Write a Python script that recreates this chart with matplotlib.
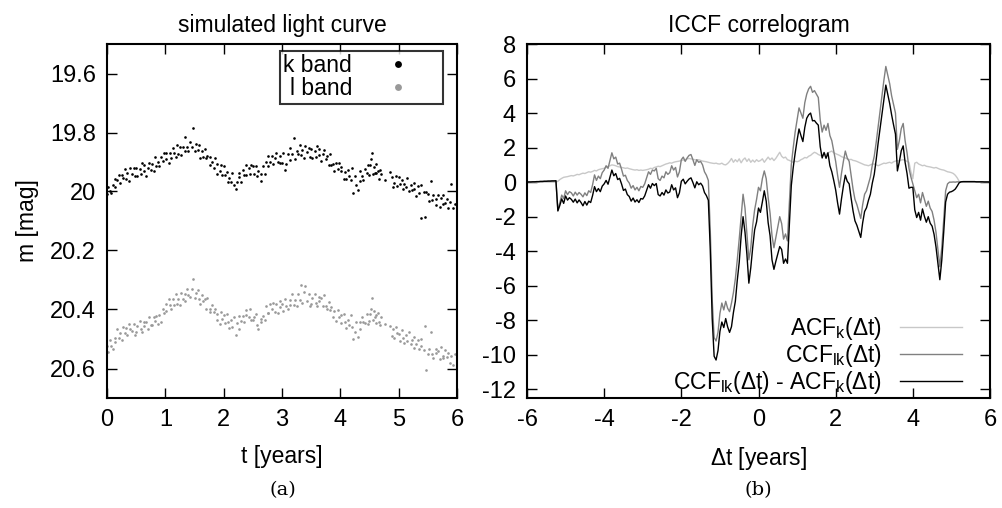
import numpy as np
import matplotlib
matplotlib.use("Agg")
import matplotlib.pyplot as plt

plt.rcParams['font.family'] = ['Liberation Sans', 'DejaVu Sans']
plt.rcParams['mathtext.default'] = 'regular'
plt.rcParams['axes.unicode_minus'] = False

# ---- panel (a): simulated light curve (epochs in years, magnitudes) ----
t_years = [
    0.004, 0.019, 0.058, 0.075, 0.097, 0.132, 0.142, 0.177, 0.205, 0.221, 0.259, 0.268, 0.301, 0.331, 0.345, 0.378, 0.391, 0.429, 0.458, 0.473,
    0.504, 0.519, 0.558, 0.575, 0.597, 0.632, 0.642, 0.677, 0.705, 0.721, 0.759, 0.768, 0.801, 0.831, 0.845, 0.878, 0.891, 0.929, 0.958, 0.973,
    1.004, 1.019, 1.058, 1.075, 1.097, 1.132, 1.142, 1.177, 1.205, 1.221, 1.259, 1.268, 1.301, 1.331, 1.345, 1.378, 1.391, 1.429, 1.458, 1.473,
    1.504, 1.519, 1.558, 1.575, 1.597, 1.632, 1.642, 1.677, 1.705, 1.721, 1.759, 1.768, 1.801, 1.831, 1.845, 1.878, 1.891, 1.929, 1.958, 1.973,
    2.004, 2.019, 2.058, 2.075, 2.097, 2.132, 2.142, 2.177, 2.205, 2.221, 2.259, 2.268, 2.301, 2.331, 2.345, 2.378, 2.391, 2.429, 2.458, 2.473,
    2.504, 2.519, 2.558, 2.575, 2.597, 2.632, 2.642, 2.677, 2.705, 2.721, 2.759, 2.768, 2.801, 2.831, 2.845, 2.878, 2.891, 2.929, 2.958, 2.973,
    3.004, 3.019, 3.058, 3.075, 3.097, 3.132, 3.142, 3.177, 3.205, 3.221, 3.259, 3.268, 3.301, 3.331, 3.345, 3.378, 3.391, 3.429, 3.458, 3.473,
    3.504, 3.519, 3.558, 3.575, 3.597, 3.632, 3.642, 3.677, 3.705, 3.721, 3.759, 3.768, 3.801, 3.831, 3.845, 3.878, 3.891, 3.929, 3.958, 3.973,
    4.004, 4.019, 4.058, 4.075, 4.097, 4.132, 4.142, 4.177, 4.205, 4.221, 4.259, 4.268, 4.301, 4.331, 4.345, 4.378, 4.391, 4.429, 4.458, 4.473,
    4.500, 4.515, 4.530, 4.545, 4.560, 4.575, 4.590, 4.605, 4.620, 4.640, 4.660, 4.680, 4.700, 4.760, 4.860, 4.880, 4.900, 4.925, 4.950, 4.975,
    5.004, 5.019, 5.058, 5.075, 5.097, 5.132, 5.142, 5.177, 5.205, 5.221, 5.259, 5.268, 5.301, 5.331, 5.345, 5.378, 5.391, 5.429, 5.458, 5.473,
    5.504, 5.519, 5.558, 5.575, 5.597, 5.632, 5.642, 5.677, 5.705, 5.721, 5.759, 5.768, 5.801, 5.831, 5.845, 5.878, 5.891, 5.929, 5.958, 5.993,
]

k_band = [
    20.008, 19.984, 19.997, 20.005, 19.979, 19.959, 19.985, 19.962, 19.943, 19.972, 19.945, 19.955, 19.925, 19.957, 19.938, 19.963, 19.920, 19.939, 19.922, 19.949,
    19.920, 19.949, 19.925, 19.942, 19.904, 19.932, 19.910, 19.946, 19.922, 19.902, 19.926, 19.906, 19.929, 19.883, 19.913, 19.899, 19.914, 19.882, 19.895, 19.868,
    19.890, 19.869, 19.903, 19.871, 19.888, 19.853, 19.871, 19.883, 19.842, 19.872, 19.849, 19.876, 19.848, 19.862, 19.815, 19.849, 19.864, 19.831, 19.849, 19.785,
    19.863, 19.838, 19.858, 19.841, 19.885, 19.863, 19.884, 19.855, 19.888, 19.880, 19.910, 19.883, 19.900, 19.920, 19.885, 19.907, 19.942, 19.930, 19.910, 19.944,
    19.915, 19.944, 19.933, 19.967, 19.954, 19.967, 19.936, 19.979, 19.990, 19.968, 19.937, 19.950, 19.968, 19.926, 19.943, 19.910, 19.943, 19.922, 19.942, 19.910,
    19.915, 19.942, 19.912, 19.949, 19.932, 19.964, 19.939, 19.914, 19.941, 19.900, 19.914, 19.879, 19.901, 19.881, 19.907, 19.886, 19.868, 19.899, 19.881, 19.905,
    19.902, 19.870, 19.928, 19.906, 19.873, 19.854, 19.892, 19.874, 19.818, 19.889, 19.862, 19.873, 19.843, 19.876, 19.859, 19.885, 19.845, 19.867, 19.852, 19.882,
    19.855, 19.886, 19.863, 19.882, 19.846, 19.876, 19.856, 19.895, 19.874, 19.859, 19.891, 19.880, 19.911, 19.873, 19.911, 19.906, 19.929, 19.905, 19.925, 19.905,
    19.930, 19.916, 19.958, 19.933, 19.958, 19.927, 19.946, 19.960, 19.922, 20.005, 19.946, 19.978, 19.995, 19.964, 19.931, 19.948, 19.960, 19.924, 19.938, 19.911,
    19.943, 19.910, 19.890, 19.870, 19.940, 19.916, 19.936, 19.906, 19.938, 19.929, 19.957, 19.927, 19.940, 19.960, 19.933, 19.952, 19.984, 19.970, 19.949, 19.980,
    19.950, 19.975, 19.960, 19.990, 19.974, 19.986, 19.955, 20.000, 19.977, 19.996, 19.971, 19.991, 20.015, 19.980, 20.004, 19.978, 20.090, 20.003, 20.088, 20.002,
    20.010, 20.031, 19.965, 20.029, 20.012, 20.045, 20.026, 20.012, 20.053, 20.021, 20.041, 20.012, 20.038, 20.024, 20.055, 20.037, 19.975, 20.057, 20.042, 20.070,
]

l_band = [
    20.523, 20.543, 20.502, 20.523, 20.534, 20.495, 20.509, 20.467, 20.498, 20.480, 20.502, 20.461, 20.481, 20.464, 20.488, 20.448, 20.466, 20.474, 20.448, 20.485,
    20.475, 20.455, 20.439, 20.467, 20.477, 20.442, 20.456, 20.443, 20.467, 20.425, 20.452, 20.454, 20.424, 20.440, 20.421, 20.448, 20.418, 20.443, 20.398, 20.413,
    20.383, 20.404, 20.364, 20.386, 20.399, 20.365, 20.384, 20.347, 20.383, 20.365, 20.385, 20.344, 20.363, 20.346, 20.371, 20.331, 20.350, 20.358, 20.332, 20.295,
    20.360, 20.344, 20.333, 20.366, 20.381, 20.352, 20.372, 20.366, 20.397, 20.362, 20.397, 20.407, 20.384, 20.409, 20.399, 20.435, 20.414, 20.448, 20.410, 20.433,
    20.418, 20.446, 20.414, 20.443, 20.464, 20.436, 20.459, 20.425, 20.488, 20.445, 20.465, 20.422, 20.440, 20.421, 20.444, 20.402, 20.419, 20.426, 20.398, 20.434,
    20.435, 20.424, 20.416, 20.452, 20.466, 20.432, 20.442, 20.421, 20.435, 20.387, 20.412, 20.412, 20.381, 20.397, 20.379, 20.409, 20.382, 20.411, 20.371, 20.391,
    20.383, 20.404, 20.365, 20.387, 20.400, 20.367, 20.386, 20.349, 20.385, 20.367, 20.389, 20.349, 20.369, 20.318, 20.379, 20.340, 20.322, 20.372, 20.348, 20.388,
    20.380, 20.362, 20.347, 20.377, 20.389, 20.356, 20.372, 20.362, 20.389, 20.352, 20.387, 20.398, 20.376, 20.401, 20.391, 20.427, 20.406, 20.440, 20.403, 20.426,
    20.418, 20.446, 20.414, 20.443, 20.464, 20.434, 20.454, 20.419, 20.458, 20.500, 20.477, 20.441, 20.492, 20.443, 20.466, 20.425, 20.441, 20.446, 20.416, 20.450,
    20.440, 20.416, 20.397, 20.360, 20.436, 20.405, 20.424, 20.417, 20.447, 20.411, 20.444, 20.451, 20.424, 20.449, 20.457, 20.490, 20.466, 20.498, 20.459, 20.479,
    20.483, 20.507, 20.471, 20.496, 20.514, 20.485, 20.508, 20.476, 20.516, 20.503, 20.529, 20.493, 20.517, 20.505, 20.535, 20.500, 20.524, 20.537, 20.455, 20.605,
    20.550, 20.533, 20.475, 20.552, 20.566, 20.533, 20.549, 20.539, 20.567, 20.528, 20.559, 20.565, 20.538, 20.560, 20.547, 20.580, 20.557, 20.589, 20.552, 20.595,
]

mag_ticks = [19.6, 19.8, 20.0, 20.2, 20.4, 20.6]
mag_ticklabels = ['19.6', '19.8', '20', '20.2', '20.4', '20.6']

# ---- panel (b): ICCF correlogram, lag grid step 0.05 yr from -6 to 6 ----
lag_step = 0.05
ccf_lk = [
    0.00, 0.01, 0.01, 0.02, 0.02, 0.03, 0.03, 0.04, 0.04, 0.05, 0.05, 0.06, 0.06, 0.07, 0.07, 0.08, -1.62, -1.20, -0.75, -0.95,
    -0.50, -0.72, -0.55, -0.62, -0.80, -0.58, -0.75, -0.60, -0.70, -0.85, -0.62, -0.78, -0.50, -0.60, -0.15, 0.42, 0.10, 0.35, 0.20, 0.55,
    0.70, 0.95, 0.80, 1.25, 1.70, 1.35, 1.45, 1.05, 1.10, 0.75, 0.35, 0.40, 0.10, -0.05, -0.35, -0.20, -0.45, -0.30, -0.50, -0.25,
    -0.30, -0.10, 0.25, 0.60, 0.45, 0.70, 0.65, 0.80, 0.20, 0.10, 0.35, 0.25, 0.60, 0.45, 0.55, 0.95, 0.70, 0.85, 0.30, 0.60,
    1.30, 1.45, 1.20, 1.40, 1.55, 1.60, 1.30, 0.97, 1.30, 1.15, 1.20, 1.00, 0.60, 0.40, 0.10, -2.80, -6.80, -9.00, -9.20, -8.70,
    -7.60, -7.00, -7.40, -6.90, -7.30, -7.50, -7.00, -6.40, -5.60, -4.50, -3.30, -2.00, -0.70, -1.50, -3.00, -4.50, -3.80, -2.50, -1.60, -1.00,
    -0.30, -0.50, 0.20, 0.65, 0.20, -0.90, -1.80, -3.10, -3.80, -3.20, -2.60, -2.00, -2.40, -3.30, -3.00, -3.40, -1.20, 1.00, 2.00, 2.90,
    3.60, 4.30, 4.00, 3.70, 4.60, 5.10, 5.40, 5.55, 5.20, 5.30, 5.10, 4.90, 3.60, 2.90, 3.30, 3.00, 3.40, 2.70, 2.40, 1.80,
    1.20, 0.40, -0.30, 0.50, 1.20, 1.80, 1.40, 1.20, 0.40, -0.40, -1.00, -1.30, -1.70, -2.10, -1.30, -0.70, -0.50, -0.10, 0.30, 1.00,
    1.50, 2.30, 3.20, 4.10, 5.00, 5.90, 6.70, 6.20, 5.70, 5.00, 4.50, 4.00, 1.90, 2.40, 3.10, 3.40, 2.40, 1.70, 0.80, 0.30,
    -0.10, -0.50, -0.90, -0.70, -1.20, -0.60, -1.00, -1.40, -1.10, -1.50, -1.70, -2.20, -2.90, -3.90, -4.90, -3.80, -2.20, -0.50, -0.10, 0.00,
    0.00, 0.01, 0.00, 0.02, 0.01, 0.02, 0.03, 0.03, 0.03, 0.03, 0.03, 0.03, 0.03, 0.02, 0.02, 0.02, 0.02, 0.01, 0.01, 0.01,
    0.00,
]

acf_k = [
    0.00, 0.00, 0.00, 0.00, 0.00, 0.00, 0.00, 0.00, 0.00, 0.00, 0.00, 0.00, 0.00, 0.00, 0.00, 0.00, 0.05, 0.15, 0.22, 0.28,
    0.30, 0.32, 0.35, 0.38, 0.36, 0.40, 0.45, 0.43, 0.48, 0.52, 0.50, 0.55, 0.60, 0.58, 0.62, 0.68, 0.65, 0.72, 0.75, 0.78,
    0.80, 0.85, 0.92, 0.95, 1.00, 0.98, 0.95, 0.90, 0.88, 0.85, 0.83, 0.80, 0.82, 0.78, 0.75, 0.72, 0.70, 0.72, 0.68, 0.70,
    0.68, 0.70, 0.72, 0.75, 0.80, 0.78, 0.85, 0.88, 0.92, 0.90, 0.95, 1.00, 1.05, 1.08, 1.12, 1.10, 1.15, 1.18, 1.20, 1.22,
    1.25, 1.28, 1.30, 1.35, 1.37, 1.35, 1.32, 1.30, 1.28, 1.30, 1.26, 1.22, 1.20, 1.18, 1.15, 1.12, 1.10, 1.08, 1.10, 1.06,
    1.05, 1.10, 1.02, 1.00, 1.08, 1.20, 1.37, 1.15, 1.30, 1.18, 1.35, 1.12, 1.30, 1.40, 1.20, 1.35, 1.15, 1.28, 1.16, 1.30,
    1.20, 1.25, 1.35, 1.15, 1.30, 1.45, 1.30, 1.40, 1.25, 1.38, 1.55, 1.73, 1.50, 1.40, 1.45, 1.30, 1.26, 1.20, 1.15, 1.22,
    1.18, 1.22, 1.30, 1.35, 1.43, 1.40, 1.50, 1.55, 1.65, 1.73, 1.68, 1.60, 1.55, 1.50, 1.58, 1.62, 1.70, 1.75, 1.80, 1.70,
    1.65, 1.60, 1.55, 1.48, 1.43, 1.40, 1.35, 1.30, 1.32, 1.26, 1.24, 1.20, 1.15, 1.10, 1.05, 1.00, 0.98, 0.95, 1.00, 1.05,
    1.05, 1.00, 0.95, 1.00, 1.05, 1.10, 1.08, 1.12, 1.15, 1.10, 1.18, 1.22, 1.25, 1.22, 1.28, 1.30, 1.26, 1.20, 1.15, 0.60,
    0.20, 1.10, 1.15, 1.05, 1.00, 0.95, 0.98, 0.92, 0.90, 0.88, 0.85, 0.82, 0.85, 0.80, 0.75, 0.72, 0.70, 0.65, 0.60, 0.58,
    0.55, 0.50, 0.40, 0.25, 0.05, 0.00, 0.00, 0.00, 0.00, 0.00, 0.00, 0.00, 0.00, 0.00, 0.00, 0.00, 0.00, 0.00, 0.00, 0.00,
    0.00,
]

lag = np.round(np.arange(-6.0, 6.0 + lag_step / 2, lag_step), 2)
ccf_arr = np.array(ccf_lk)
acf_arr = np.array(acf_k)
diff_arr = ccf_arr - acf_arr

fig = plt.figure(figsize=(10.03, 5.08), dpi=100)
ax1 = fig.add_axes([107 / 1003, 110 / 508, 350 / 1003, 354 / 508])
ax2 = fig.add_axes([527 / 1003, 110 / 508, 463 / 1003, 354 / 508])

fs = 16.5
ts = 17

# panel (a)
ax1.plot(t_years, k_band, 'o', ms=1.9, mew=0, color='black', label='k band')
ax1.plot(t_years, l_band, 'o', ms=1.9, mew=0, color='#999999', label='l band')
ax1.set_xlim(0, 6)
ax1.set_ylim(20.7, 19.5)
ax1.set_xticks(range(0, 7))
ax1.set_yticks(mag_ticks)
ax1.set_yticklabels(mag_ticklabels)
ax1.set_xlabel('t [years]', fontsize=fs, labelpad=10)
ax1.set_ylabel('m [mag]', fontsize=fs, labelpad=8)
ax1.set_title('simulated light curve', fontsize=fs, pad=9)
leg1 = ax1.legend(loc='upper right', bbox_to_anchor=(0.959, 0.981), markerfirst=False,
                  markerscale=2.6, fontsize=fs, frameon=True, fancybox=False,
                  handlelength=3.6, handletextpad=0.2, borderpad=0.15,
                  labelspacing=0.0, borderaxespad=0)
leg1.get_frame().set_edgecolor('black')
leg1.get_frame().set_linewidth(1.5)
for txt in leg1.get_texts():
    txt.set_ha('right')

# panel (b)
ax2.plot(lag, acf_arr, color='#c8c8c8', lw=1.0, label=r'ACF$_{k}$($\Delta$t)')
ax2.plot(lag, ccf_arr, color='#808080', lw=1.0, label=r'CCF$_{lk}$($\Delta$t)')
ax2.plot(lag, diff_arr, color='black', lw=1.0,
         label=r'CCF$_{lk}$($\Delta$t) - ACF$_{k}$($\Delta$t)')
ax2.set_xlim(-6, 6)
ax2.set_ylim(-12.5, 8)
ax2.set_xticks(range(-6, 7, 2))
ax2.set_yticks(range(-12, 9, 2))
ax2.set_xlabel(r'$\Delta$t [years]', fontsize=fs, labelpad=10)
ax2.set_title('ICCF correlogram', fontsize=fs, pad=9)
leg2 = ax2.legend(loc='lower right', bbox_to_anchor=(0.94, 0.005), markerfirst=False,
                  fontsize=fs, frameon=False, handlelength=2.7, handletextpad=0.8,
                  labelspacing=0.0, borderaxespad=0, borderpad=0)
for txt in leg2.get_texts():
    txt.set_ha('right')

for ax in (ax1, ax2):
    for sp in ax.spines.values():
        sp.set_linewidth(1.5)
    ax.tick_params(direction='in', top=True, right=True, length=7, width=1.0,
                   labelsize=ts, pad=8)

fig.text(283 / 1003, 1 - 490 / 508, '(a)', ha='center', va='center',
         fontsize=14, family='DejaVu Serif')
fig.text(758 / 1003, 1 - 490 / 508, '(b)', ha='center', va='center',
         fontsize=14, family='DejaVu Serif')

fig.savefig('out.png', dpi=100)
